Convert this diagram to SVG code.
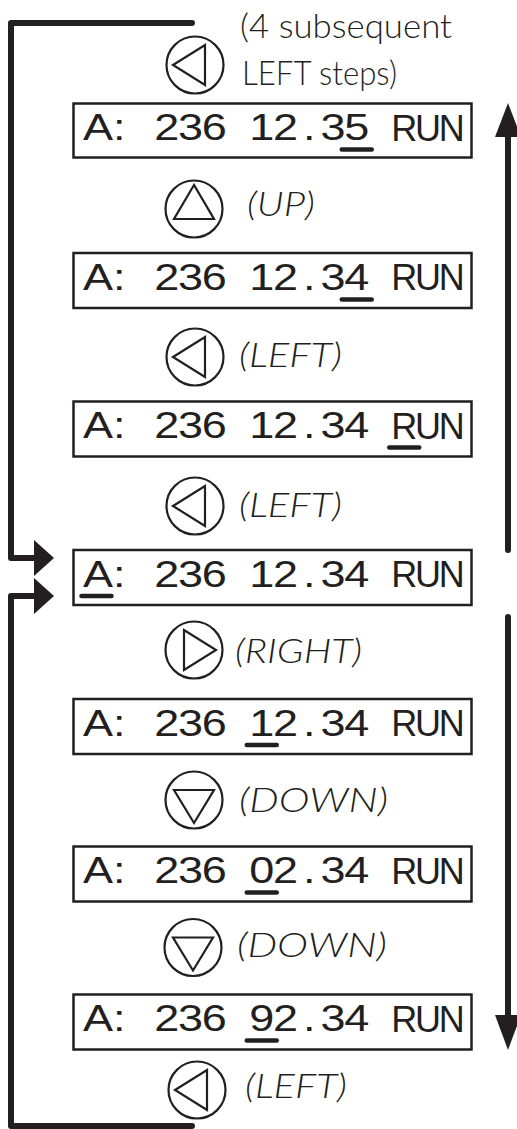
<svg xmlns="http://www.w3.org/2000/svg" width="517" height="1129" viewBox="0 0 517 1129">
<style>
.box{fill:#fff;stroke:#231f20;stroke-width:2.5}
.lcd{font-family:"Liberation Sans",Arial,sans-serif;font-size:36px;fill:#231f20;text-anchor:middle}
.ul{stroke:#231f20;stroke-width:4.5;stroke-linecap:round}
.btn{fill:none;stroke:#231f20;stroke-width:2.2;stroke-linejoin:miter}
.lbl{font-family:Lato,"Open Sans",sans-serif;font-style:italic;font-weight:300;font-size:34px;fill:#231f20}
.note{font-family:Lato,"Open Sans",sans-serif;font-weight:300;font-size:33px;fill:#231f20}
.conn{fill:none;stroke:#231f20;stroke-width:6;stroke-linecap:round;stroke-linejoin:round}
.head{fill:#231f20}
</style>
<rect width="517" height="1129" fill="#fff"/>
<g id="connectors">
<path class="conn" d="M192 23 H11 V558 H38"/>
<polygon class="head" points="34,540 54,558 34,576"/>
<path class="conn" d="M192 1126 H11 V596 H38"/>
<polygon class="head" points="34,578 54,596 34,614"/>
<path class="conn" d="M508 550 V132"/>
<polygon class="head" points="508,103 495,137 521,137"/>
<path class="conn" d="M508 617 V1020"/>
<polygon class="head" points="495,1015 521,1015 508,1050"/>
</g>
<g id="note-top">
<text class="note" x="240" y="38" textLength="212" lengthAdjust="spacingAndGlyphs">(4 subsequent</text>
<text class="note" x="242" y="85" textLength="155" lengthAdjust="spacingAndGlyphs">LEFT steps)</text>
</g>
<g id="btn-left-top">
<circle class="btn" cx="195" cy="65" r="28.5"/>
<polygon class="btn" points="173,65 205,45 205,85"/>
</g>
<g id="box1">
<rect class="box" x="73.5" y="103.5" width="398" height="54"/>
<text class="lcd" transform="scale(1.25,1)" y="140.5" x="78.4 95.4 114.4 133.4 152.4 171.4 190.4 209.4 228.4 247.4 266.4 285.4">A: 236 12.35</text>
<text class="lcd" y="140.5" x="404.25 428 451.75">RUN</text>
<line class="ul" x1="341.75" y1="149.5" x2="371.75" y2="149.5"/>
</g>
<g id="btn-up">
<circle class="btn" cx="194" cy="209" r="28.5"/>
<polygon class="btn" points="194,185 174,219 214,219"/>
<text class="lbl" x="247" y="216" textLength="68" lengthAdjust="spacingAndGlyphs">(UP)</text>
</g>
<g id="box2">
<rect class="box" x="73.5" y="253" width="398" height="55"/>
<text class="lcd" transform="scale(1.25,1)" y="290" x="78.4 95.4 114.4 133.4 152.4 171.4 190.4 209.4 228.4 247.4 266.4 285.4">A: 236 12.34</text>
<text class="lcd" y="290" x="404.25 428 451.75">RUN</text>
<line class="ul" x1="341.75" y1="299.5" x2="371.75" y2="299.5"/>
</g>
<g id="btn-left-1">
<circle class="btn" cx="195" cy="357" r="28.5"/>
<polygon class="btn" points="173,357 205,337 205,377"/>
<text class="lbl" x="239" y="367" textLength="103" lengthAdjust="spacingAndGlyphs">(LEFT)</text>
</g>
<g id="box3">
<rect class="box" x="73.5" y="401.5" width="398" height="55"/>
<text class="lcd" transform="scale(1.25,1)" y="438.5" x="78.4 95.4 114.4 133.4 152.4 171.4 190.4 209.4 228.4 247.4 266.4 285.4">A: 236 12.34</text>
<text class="lcd" y="438.5" x="404.25 428 451.75">RUN</text>
<line class="ul" x1="389.25" y1="447.5" x2="419.25" y2="447.5"/>
</g>
<g id="btn-left-2">
<circle class="btn" cx="195" cy="506" r="28.5"/>
<polygon class="btn" points="173,506 205,486 205,526"/>
<text class="lbl" x="239" y="517" textLength="103" lengthAdjust="spacingAndGlyphs">(LEFT)</text>
</g>
<g id="box4">
<rect class="box" x="73.5" y="550" width="398" height="55"/>
<text class="lcd" transform="scale(1.25,1)" y="587" x="78.4 95.4 114.4 133.4 152.4 171.4 190.4 209.4 228.4 247.4 266.4 285.4">A: 236 12.34</text>
<text class="lcd" y="587" x="404.25 428 451.75">RUN</text>
<line class="ul" x1="81.5" y1="596" x2="111.5" y2="596"/>
</g>
<g id="btn-right">
<circle class="btn" cx="194" cy="650" r="28.5"/>
<polygon class="btn" points="184,630 184,670 216,650"/>
<text class="lbl" x="235" y="663" textLength="127" lengthAdjust="spacingAndGlyphs">(RIGHT)</text>
</g>
<g id="box5">
<rect class="box" x="73.5" y="699" width="398" height="55"/>
<text class="lcd" transform="scale(1.25,1)" y="736" x="78.4 95.4 114.4 133.4 152.4 171.4 190.4 209.4 228.4 247.4 266.4 285.4">A: 236 12.34</text>
<text class="lcd" y="736" x="404.25 428 451.75">RUN</text>
<line class="ul" x1="246.75" y1="745" x2="276.75" y2="745"/>
</g>
<g id="btn-down-1">
<circle class="btn" cx="194" cy="800" r="28.5"/>
<polygon class="btn" points="174,790 214,790 194,823"/>
<text class="lbl" x="239" y="812" textLength="149" lengthAdjust="spacingAndGlyphs">(DOWN)</text>
</g>
<g id="box6">
<rect class="box" x="73.5" y="846.5" width="398" height="55"/>
<text class="lcd" transform="scale(1.25,1)" y="883.5" x="78.4 95.4 114.4 133.4 152.4 171.4 190.4 209.4 228.4 247.4 266.4 285.4">A: 236 02.34</text>
<text class="lcd" y="883.5" x="404.25 428 451.75">RUN</text>
<line class="ul" x1="246.75" y1="892.5" x2="276.75" y2="892.5"/>
</g>
<g id="btn-down-2">
<circle class="btn" cx="193" cy="947.5" r="28.5"/>
<polygon class="btn" points="173,937.5 213,937.5 193,970.5"/>
<text class="lbl" x="237" y="957" textLength="150" lengthAdjust="spacingAndGlyphs">(DOWN)</text>
</g>
<g id="box7">
<rect class="box" x="73.5" y="994.5" width="398" height="55"/>
<text class="lcd" transform="scale(1.25,1)" y="1031.5" x="78.4 95.4 114.4 133.4 152.4 171.4 190.4 209.4 228.4 247.4 266.4 285.4">A: 236 92.34</text>
<text class="lcd" y="1031.5" x="404.25 428 451.75">RUN</text>
<line class="ul" x1="246.75" y1="1040.5" x2="276.75" y2="1040.5"/>
</g>
<g id="btn-left-bottom">
<circle class="btn" cx="197" cy="1090" r="28.5"/>
<polygon class="btn" points="175,1090 207,1070 207,1110"/>
<text class="lbl" x="245" y="1098" textLength="102" lengthAdjust="spacingAndGlyphs">(LEFT)</text>
</g>
</svg>
